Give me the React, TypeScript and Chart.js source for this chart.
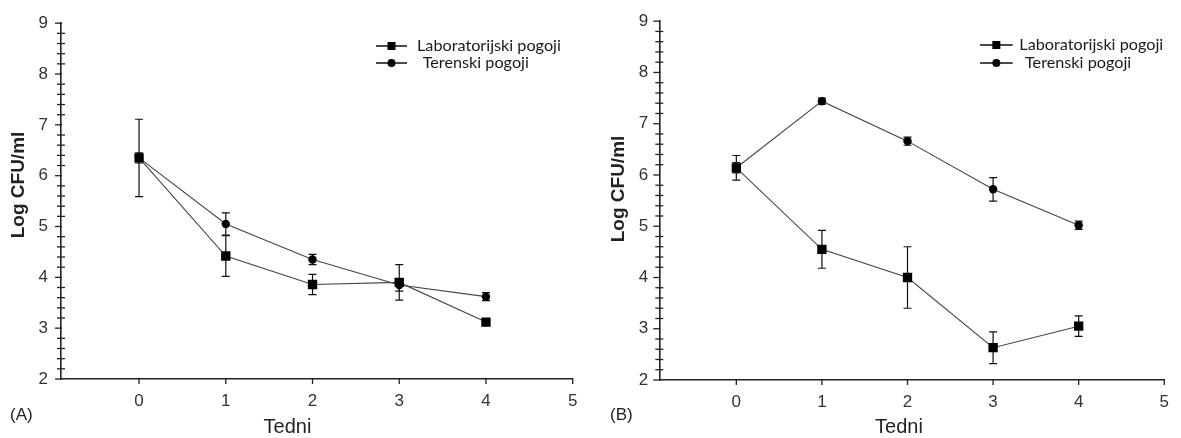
import React, { useEffect, useRef } from "react";
import { Chart, registerables } from "chart.js";

Chart.register(...registerables);

const weeks = [0, 1, 2, 3, 4];
const xTicks = [0, 1, 2, 3, 4, 5];
const yTicks = [2, 3, 4, 5, 6, 7, 8, 9];
const seriesNames = ["Laboratorijski pogoji", "Terenski pogoji"];

const labA = [6.35, 4.42, 3.86, 3.9, 3.12];
const labAErr = [0.76, 0.4, 0.2, 0.35, 0.05];
const terA = [6.35, 5.05, 4.35, 3.85, 3.62];
const terAErr = [0.1, 0.22, 0.1, 0.12, 0.08];

const labB = [6.14, 4.55, 4.0, 2.63, 3.05];
const labBErr = [0.24, 0.37, 0.6, 0.31, 0.2];
const terB = [6.14, 7.44, 6.66, 5.72, 5.02];
const terBErr = [0.1, 0.06, 0.08, 0.23, 0.08];

const TICK_FONT = "Liberation Sans";

type PanelCfg = {
  tag: string;
  lab: number[];
  labErr: number[];
  ter: number[];
  terErr: number[];
  width: number;
  axisLeft: number;
  padRight: number;
  bottom: number;
  yPad: number;
  yTitle: { x: number; y: number };
  xTitle: { x: number; y: number };
  tagPos: { x: number; y: number };
  legend: { x1: number; x2: number; y1: number; y2: number; t1: number; t2: number };
};

function makePlugin(cfg: PanelCfg) {
  return {
    id: "decor" + cfg.tag,
    beforeDatasetsDraw(chart: any) {
      const ctx = chart.ctx;
      const xs = chart.scales.x;
      const ys = chart.scales.y;
      ctx.save();
      ctx.strokeStyle = "#111";
      ctx.lineWidth = 1.2;
      chart.data.datasets.forEach((ds: any) => {
        ds.data.forEach((p: any, i: number) => {
          const e = ds.errors[i];
          const px = xs.getPixelForValue(p.x);
          const top = ys.getPixelForValue(p.y + e);
          const bot = ys.getPixelForValue(p.y - e);
          ctx.beginPath();
          ctx.moveTo(px, top);
          ctx.lineTo(px, bot);
          ctx.moveTo(px - 4, top);
          ctx.lineTo(px + 4, top);
          ctx.moveTo(px - 4, bot);
          ctx.lineTo(px + 4, bot);
          ctx.stroke();
        });
      });
      ctx.restore();
    },
    afterDraw(chart: any) {
      const ctx = chart.ctx;
      const xs = chart.scales.x;
      const ys = chart.scales.y;
      const area = chart.chartArea;
      ctx.save();
      ctx.strokeStyle = "#222";
      ctx.lineWidth = 1.3;
      const ax = area.left;
      for (let k = 0; k < yTicks.length; k++) {
        const v = yTicks[k];
        const py = ys.getPixelForValue(v);
        ctx.beginPath();
        ctx.moveTo(ax - 6, py);
        ctx.lineTo(ax + 1, py);
        ctx.stroke();
        if (k < yTicks.length - 1) {
          const step = (yTicks[k + 1] - v) / 5;
          for (let m = 1; m < 5; m++) {
            const my = ys.getPixelForValue(v + step * m);
            ctx.beginPath();
            ctx.moveTo(ax - 4, my);
            ctx.lineTo(ax + 4, my);
            ctx.stroke();
          }
        }
      }
      const ay = area.bottom;
      xTicks.forEach((v) => {
        const px = xs.getPixelForValue(v);
        ctx.beginPath();
        ctx.moveTo(px, ay - 1);
        ctx.lineTo(px, ay + 5);
        ctx.stroke();
      });
      ctx.restore();

      ctx.save();
      ctx.fillStyle = "#222";
      ctx.font = `bold 19px ${TICK_FONT}`;
      ctx.textAlign = "center";
      ctx.textBaseline = "middle";
      ctx.translate(cfg.yTitle.x, cfg.yTitle.y);
      ctx.rotate(-Math.PI / 2);
      ctx.fillText("Log CFU/ml", 0, 0);
      ctx.restore();

      ctx.save();
      ctx.fillStyle = "#222";
      ctx.font = `20px ${TICK_FONT}`;
      ctx.textAlign = "center";
      ctx.textBaseline = "middle";
      ctx.fillText("Tedni", cfg.xTitle.x, cfg.xTitle.y);
      ctx.font = `17px ${TICK_FONT}`;
      ctx.textAlign = "left";
      ctx.fillText(`(${cfg.tag})`, cfg.tagPos.x, cfg.tagPos.y);
      ctx.restore();

      const L = cfg.legend;
      ctx.save();
      ctx.strokeStyle = "#111";
      ctx.fillStyle = "#000";
      ctx.lineWidth = 1.5;
      const mid = (L.x1 + L.x2) / 2;
      ctx.beginPath();
      ctx.moveTo(L.x1, L.y1);
      ctx.lineTo(L.x2, L.y1);
      ctx.moveTo(L.x1, L.y2);
      ctx.lineTo(L.x2, L.y2);
      ctx.stroke();
      ctx.fillRect(mid - 4, L.y1 - 4, 8, 8);
      ctx.beginPath();
      ctx.arc(mid, L.y2, 4, 0, Math.PI * 2);
      ctx.fill();
      ctx.font = `15px Lato`;
      const w = ctx.measureText(seriesNames[0]).width;
      const size = (15 * 144) / w;
      ctx.font = `${size.toFixed(2)}px Lato`;
      ctx.fillStyle = "#1a1a1a";
      ctx.textAlign = "left";
      ctx.textBaseline = "middle";
      ctx.fillText(seriesNames[0], L.t1, L.y1);
      ctx.fillText(seriesNames[1], L.t2, L.y2);
      ctx.restore();
    },
  };
}

function Panel({ cfg }: { cfg: PanelCfg }) {
  const ref = useRef<HTMLCanvasElement | null>(null);
  useEffect(() => {
    if (!ref.current) return;
    const mk = (vals: number[]) => weeks.map((w, i) => ({ x: w, y: vals[i] }));
    const chart = new Chart(ref.current, {
      type: "line",
      data: {
        datasets: [
          {
            label: seriesNames[0],
            data: mk(cfg.lab),
            errors: cfg.labErr,
            borderColor: "#444",
            borderWidth: 1.1,
            pointStyle: "rect",
            pointRadius: 6.6,
            pointBackgroundColor: "#000",
            pointBorderColor: "#000",
            pointBorderWidth: 0,
            tension: 0,
          } as any,
          {
            label: seriesNames[1],
            data: mk(cfg.ter),
            errors: cfg.terErr,
            borderColor: "#444",
            borderWidth: 1.1,
            pointStyle: "circle",
            pointRadius: 4.2,
            pointBackgroundColor: "#000",
            pointBorderColor: "#000",
            pointBorderWidth: 0,
            tension: 0,
          } as any,
        ],
      },
      options: {
        responsive: false,
        animation: false,
        layout: { padding: { left: 0, right: cfg.padRight, top: 20.7, bottom: 0 } },
        plugins: { legend: { display: false }, tooltip: { enabled: false } },
        scales: {
          x: {
            type: "linear",
            min: -0.9,
            max: 5,
            afterBuildTicks: (s: any) => {
              s.ticks = xTicks.map((v) => ({ value: v }));
            },
            afterFit: (s: any) => {
              s.height = 438 - cfg.bottom;
            },
            grid: { drawOnChartArea: false, drawTicks: false },
            border: { color: "#222", width: 1.6 },
            ticks: {
              font: { family: TICK_FONT, size: 17 },
              color: "#333",
              padding: 12,
              autoSkip: false,
              maxRotation: 0,
              callback: (v: any) => String(v),
            },
          },
          y: {
            type: "linear",
            min: 2,
            max: 9,
            afterBuildTicks: (s: any) => {
              s.ticks = yTicks.map((v) => ({ value: v }));
            },
            afterFit: (s: any) => {
              s.width = cfg.axisLeft;
            },
            grid: { drawOnChartArea: false, drawTicks: false },
            border: { color: "#222", width: 1.6 },
            ticks: {
              font: { family: TICK_FONT, size: 17 },
              color: "#333",
              padding: cfg.yPad,
              autoSkip: false,
              callback: (v: any) => String(v),
            },
          },
        },
      } as any,
      plugins: [makePlugin(cfg)],
    });
    return () => chart.destroy();
  }, [cfg]);
  return <canvas ref={ref} width={cfg.width} height={438} style={{ display: "block" }} />;
}

const cfgA: PanelCfg = {
  tag: "A",
  lab: labA,
  labErr: labAErr,
  ter: terA,
  terErr: terAErr,
  width: 590,
  axisLeft: 61,
  padRight: 590 - 572.7,
  bottom: 379,
  yPad: 13,
  yTitle: { x: 19, y: 185 },
  xTitle: { x: 287.5, y: 427 },
  tagPos: { x: 10, y: 415 },
  legend: { x1: 376, x2: 407, y1: 46, y2: 63, t1: 417, t2: 422.7 },
};

const cfgB: PanelCfg = {
  tag: "B",
  lab: labB,
  labErr: labBErr,
  ter: terB,
  terErr: terBErr,
  width: 591,
  axisLeft: 69.3,
  padRight: 591 - 584,
  bottom: 380,
  yPad: 11,
  yTitle: { x: 28.5, y: 189 },
  xTitle: { x: 309, y: 427 },
  tagPos: { x: 20, y: 415 },
  legend: { x1: 390, x2: 422.7, y1: 45, y2: 63, t1: 429.3, t2: 435 },
};

export default function App() {
  return (
    <div style={{ position: "absolute", left: 0, top: 0, width: 1181, height: 438, display: "flex", background: "#fff" }}>
      <Panel cfg={cfgA} />
      <Panel cfg={cfgB} />
    </div>
  );
}
